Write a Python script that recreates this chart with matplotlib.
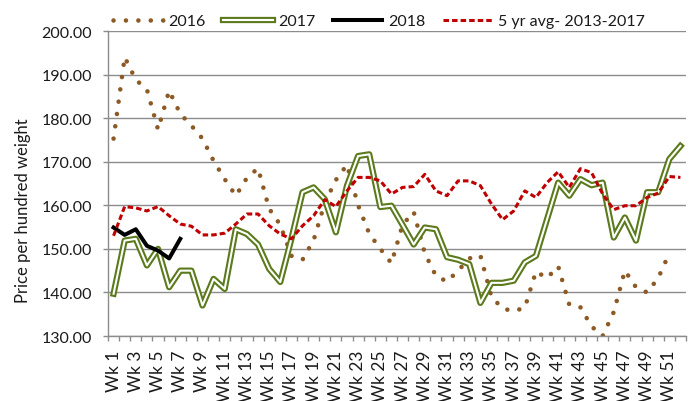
import numpy as np
import matplotlib
matplotlib.use('Agg')
import matplotlib.pyplot as plt
from matplotlib.lines import Line2D

plt.rcParams['font.family'] = ['Lato', 'DejaVu Sans']

### DATA ######################################################################
weeks = list(range(1, 53))
tick_weeks = list(range(1, 53, 2))
tick_labels = ['Wk %d' % w for w in tick_weeks]

y2016 = [175.3, 194.0, 188.8, 186.6, 177.4, 186.3, 181.0, 178.3, 175.3, 170.2,
         166.0, 162.2, 166.3, 168.5, 159.2, 155.5, 148.4, 147.5, 152.0, 160.5,
         165.8, 169.3, 160.0, 153.5, 150.0, 146.7, 155.5, 158.5, 149.0, 143.8,
         142.5, 145.0, 147.8, 148.5, 139.0, 136.3, 135.7, 136.5, 144.8, 143.3,
         146.0, 137.2, 136.6, 132.2, 130.0, 135.5, 145.0, 141.2, 140.0, 143.3,
         149.0]
y2017 = [139.7, 151.9, 152.3, 146.2, 150.0, 141.2, 145.0, 145.0, 137.0, 143.1,
         140.8, 154.5, 153.4, 151.0, 145.4, 142.4, 152.3, 163.0, 164.1, 161.4,
         153.8, 164.5, 171.3, 171.7, 159.6, 159.9, 155.5, 151.0, 154.9, 154.5,
         148.1, 147.5, 146.5, 137.6, 142.2, 142.2, 142.7, 146.9, 148.4, 156.8,
         165.2, 162.2, 166.0, 164.6, 165.2, 152.6, 157.2, 151.9, 163.0, 163.0,
         170.6, 173.6]
y2018 = [154.9, 153.2, 154.5, 150.7, 149.6, 147.8, 152.3]
yavg = [153.0, 159.7, 159.4, 158.7, 159.7, 157.6, 155.7, 155.2, 153.2, 153.2,
        153.6, 155.7, 158.0, 158.0, 155.3, 153.4, 152.3, 155.3, 157.6, 161.3,
        159.7, 163.3, 166.4, 166.4, 165.6, 162.6, 164.1, 164.3, 167.1, 163.3,
        162.2, 165.6, 165.6, 164.5, 160.3, 156.7, 158.7, 163.3, 161.8, 165.2,
        167.7, 164.1, 168.4, 167.5, 162.6, 159.0, 159.9, 159.9, 161.8, 162.8,
        166.6, 166.4]

### STYLE #####################################################################
brown = '#8C5A24'
green = '#5B7A1C'
red = '#C00000'
gray = '#8C8C8C'
txt = '#1a1a1a'
fs = 11.5

fig = plt.figure(figsize=(6.92, 4.02), dpi=100)
ax = fig.add_axes([108/692, 1-337/402, (686-108)/692, (337-32)/402])

dots = (0, (0.01, 2.7))
ax.plot(weeks[:len(y2016)], y2016, color=brown, lw=3.3,
        linestyle=dots, dash_capstyle='round')
ax.plot(weeks, y2017, color=green, lw=4.5)
ax.plot(weeks, y2017, color='white', lw=1.5)
ax.plot(weeks[:len(y2018)], y2018, color='black', lw=2.9)
ax.plot(weeks, yavg, color=red, lw=2.2, linestyle=(0, (1.8, 1.0)))

ax.set_xlim(0.5, 52.5)
ax.set_ylim(130, 200)
ax.set_yticks(np.arange(130, 201, 10))
ax.set_yticklabels(['%.2f' % v for v in np.arange(130, 201, 10)])
ax.set_xticks(tick_weeks)
ax.set_xticklabels(tick_labels, rotation=90)
ax.set_xticks(np.arange(0.5, 53, 1), minor=True)

ax.tick_params(axis='x', which='major', length=0, pad=9.5, labelsize=12.5, labelcolor=txt)
ax.tick_params(axis='x', which='minor', length=3.6, color=gray, width=1)
ax.tick_params(axis='y', length=3.6, color=gray, width=1, pad=8, labelsize=fs, labelcolor=txt)

ax.yaxis.grid(True, color=gray, lw=1.0)
ax.set_axisbelow(True)
for s in ['top', 'right']:
    ax.spines[s].set_visible(False)
for s in ['left', 'bottom']:
    ax.spines[s].set_color(gray)
    ax.spines[s].set_linewidth(1.0)

fig.text(23/692, 1-211/402, 'Price per hundred weight', rotation=90,
         ha='center', va='center', fontsize=12, color=txt)

# legend
h2016 = Line2D([], [], color=brown, lw=3.3, linestyle=dots, dash_capstyle='round')
h2017 = (Line2D([], [], color=green, lw=4.5), Line2D([], [], color='white', lw=1.5))
h2018 = Line2D([], [], color='black', lw=2.9)
havg = Line2D([], [], color=red, lw=2.2, linestyle=(0, (1.8, 1.0)))
leg = fig.legend([h2016, h2017, h2018, havg],
                 ['2016', '2017', '2018', '5 yr avg- 2013-2017'],
                 loc='center left', bbox_to_anchor=(113/692, 1-22/402), ncol=4,
                 frameon=False, fontsize=fs, handlelength=3.1, handletextpad=0.35,
                 columnspacing=1.1, borderpad=0, borderaxespad=0)
for t in leg.get_texts():
    t.set_color(txt)

fig.savefig('out.png', dpi=100)
